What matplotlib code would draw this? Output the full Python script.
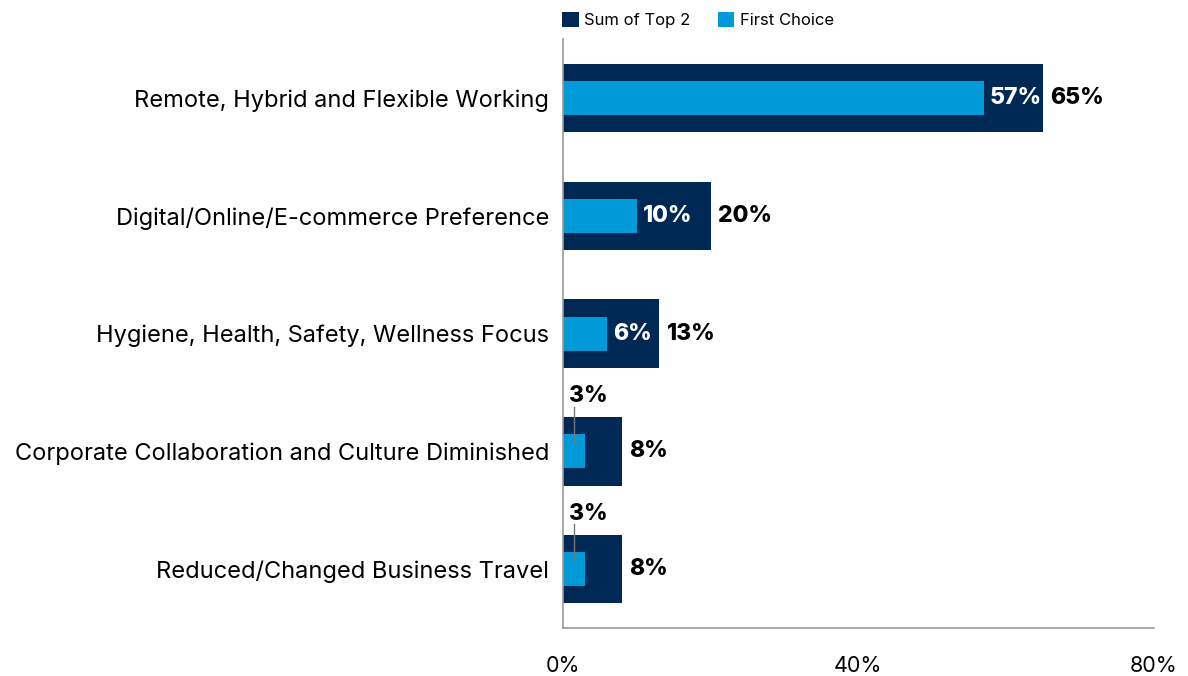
import matplotlib
matplotlib.use("Agg")
import matplotlib.pyplot as plt
import numpy as np

plt.rcParams['font.family'] = ['Inter', 'DejaVu Sans']

categories = ["Remote, Hybrid and Flexible Working",
              "Digital/Online/E-commerce Preference",
              "Hygiene, Health, Safety, Wellness Focus",
              "Corporate Collaboration and Culture Diminished",
              "Reduced/Changed Business Travel"]
sum_top2 = [65, 20, 13, 8, 8]
first_choice = [57, 10, 6, 3, 3]
xticks = [0, 40, 80]

DARK = "#002855"
LIGHT = "#009ad8"

fig = plt.figure(figsize=(11.88, 6.76), dpi=100)
ax = fig.add_axes([0.474, 0.071, 0.497, 0.871])

y = np.arange(len(categories))
ax.barh(y, sum_top2, height=0.58, color=DARK, label="Sum of Top 2")
ax.barh(y, first_choice, height=0.29, color=LIGHT, label="First Choice")

for i in range(len(categories)):
    ax.text(sum_top2[i] + 1.0, i, f"{sum_top2[i]}%", va="center", ha="left",
            fontsize=16.5, fontweight="heavy", color="black")
    if first_choice[i] >= 5:
        ax.text(first_choice[i] + 0.8, i, f"{first_choice[i]}%", va="center", ha="left",
                fontsize=16.5, fontweight="heavy", color="white")
    else:
        # small values get a label above with a leader line
        ax.plot([1.5, 1.5], [i - 0.07, i - 0.38], color="#777777", lw=1)
        ax.text(0.8, i - 0.47, f"{first_choice[i]}%", va="center", ha="left",
                fontsize=16.5, fontweight="heavy", color="black")

ax.set_xlim(0, 80)
ax.set_ylim(len(categories) - 0.5, -0.5)
ax.set_yticks(y)
ax.set_yticklabels(categories, fontsize=17)
ax.set_xticks(xticks)
ax.set_xticklabels([f"{t}%" for t in xticks], fontsize=15.5)
ax.tick_params(axis="both", length=0)
ax.tick_params(axis="x", pad=20)
ax.tick_params(axis="y", pad=10)
for s in ["top", "right"]:
    ax.spines[s].set_visible(False)
for s in ["left", "bottom"]:
    ax.spines[s].set_color("#999999")
    ax.spines[s].set_linewidth(1.2)

ax.legend(loc="lower left", bbox_to_anchor=(-0.016, 1.005), ncol=2, frameon=False,
          fontsize=12, handlelength=1.0, handleheight=1.0, columnspacing=1.6,
          handletextpad=0.35, borderaxespad=0.1)

fig.savefig("out.png", dpi=100)
